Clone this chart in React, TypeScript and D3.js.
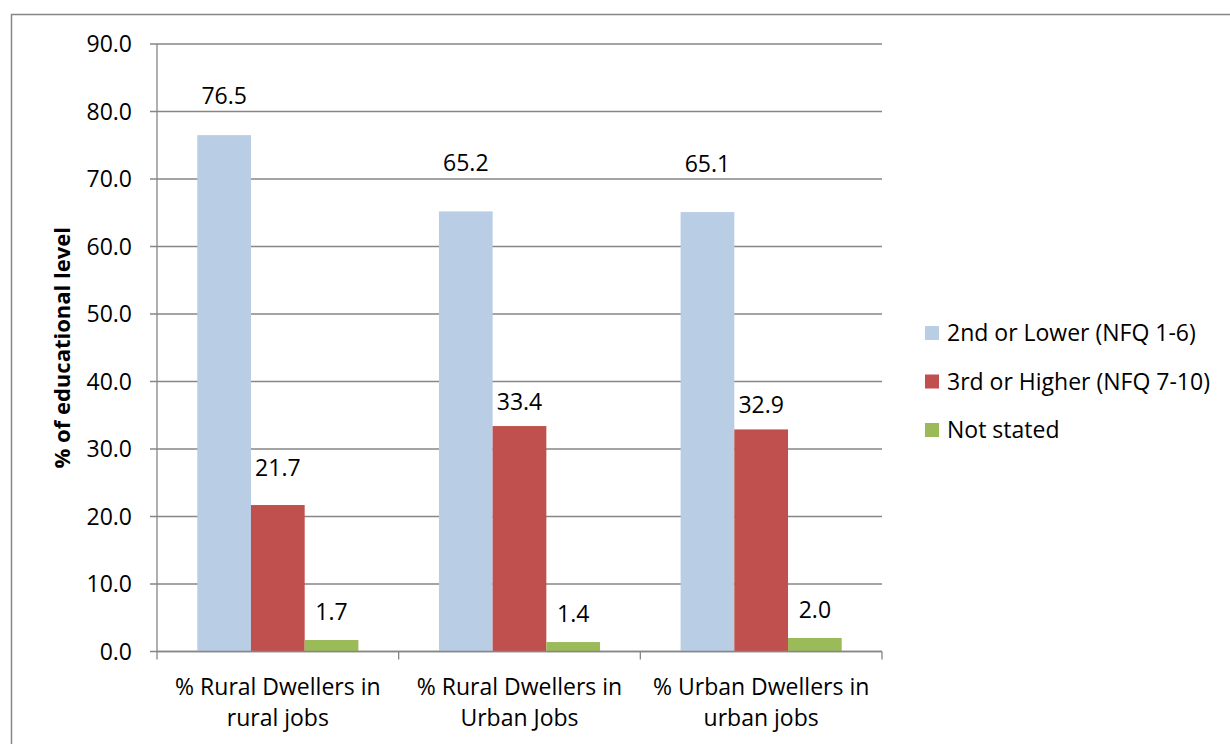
import React from "react";
import * as d3 from "d3";

const categories = [
  ["% Rural Dwellers in", "rural jobs"],
  ["% Rural Dwellers in", "Urban Jobs"],
  ["% Urban Dwellers in", "urban jobs"],
];
const seriesNames = ["2nd or Lower (NFQ 1-6)", "3rd or Higher (NFQ 7-10)", "Not stated"];
const lowerValues = [76.5, 65.2, 65.1];
const higherValues = [21.7, 33.4, 32.9];
const notStatedValues = [1.7, 1.4, 2.0];
const yTicks = [0, 10, 20, 30, 40, 50, 60, 70, 80, 90];

// label nudges (px above the bar top, to the text's middle)
const labelLift = [
  [39, 48, 48],
  [37, 24, 24],
  [28, 28, 28],
];

const colors = ["#B9CDE5", "#C0504D", "#9BBB59"];
const FONT = "'Open Sans', 'Noto Sans', sans-serif";
const FS = 23;

export default function App() {
  const W = 1230;
  const H = 744;
  const left = 157;
  const right = 882;
  const top = 44;
  const bottom = 651.5;

  const series = [lowerValues, higherValues, notStatedValues];

  const x = d3
    .scaleBand<number>()
    .domain(categories.map((_, i) => i))
    .range([left, right])
    .paddingInner(0)
    .paddingOuter(0);
  const inner = d3
    .scaleBand<number>()
    .domain(series.map((_, i) => i))
    .range([0, x.bandwidth()])
    .paddingOuter(0.75)
    .paddingInner(0);
  const y = d3.scaleLinear().domain([0, 90]).range([bottom, top]);
  const fmt = d3.format(".1f");

  return (
    <svg
      width={W}
      height={H}
      style={{ position: "absolute", left: 0, top: 0, display: "block" }}
      fontFamily={FONT}
    >
      <rect x={0} y={0} width={W} height={H} fill="#fff" />
      <rect x={11.5} y={14.5} width={W + 20} height={H + 20} fill="none" stroke="#868686" strokeWidth={1.5} />

      {/* gridlines and y ticks */}
      {yTicks.map((t) => (
        <g key={t}>
          <line x1={150} x2={right} y1={y(t)} y2={y(t)} stroke="#868686" strokeWidth={1.3} />
          <text x={132} y={y(t)} dy="0.35em" textAnchor="end" fontSize={FS} fill="#000">
            {fmt(t)}
          </text>
        </g>
      ))}

      {/* bars */}
      {series.map((vals, s) =>
        vals.map((v, c) => (
          <rect
            key={`${s}-${c}`}
            x={x(c)! + inner(s)!}
            width={inner.bandwidth()}
            y={y(v)}
            height={y(0) - y(v)}
            fill={colors[s]}
          />
        ))
      )}

      {/* axes */}
      <line x1={left} x2={left} y1={top} y2={bottom} stroke="#868686" strokeWidth={1.3} />
      <line x1={left} x2={right} y1={bottom} y2={bottom} stroke="#868686" strokeWidth={1.5} />
      {[0, 1, 2, 3].map((i) => {
        const px = i < 3 ? x(i)! : right;
        return <line key={i} x1={px} x2={px} y1={bottom} y2={bottom + 8} stroke="#868686" strokeWidth={1.3} />;
      })}

      {/* value labels */}
      {series.map((vals, s) =>
        vals.map((v, c) => (
          <text
            key={`l${s}-${c}`}
            x={x(c)! + inner(s)! + inner.bandwidth() / 2}
            y={y(v) - labelLift[s][c]}
            dy="0.35em"
            textAnchor="middle"
            fontSize={FS}
            fill="#000"
          >
            {fmt(v)}
          </text>
        ))
      )}

      {/* category labels */}
      {categories.map((lines, c) => (
        <text key={`c${c}`} x={x(c)! + x.bandwidth() / 2} textAnchor="middle" fontSize={FS} fill="#000">
          {lines.map((ln, k) => (
            <tspan key={k} x={x(c)! + x.bandwidth() / 2} y={687 + k * 31} dy="0.35em">
              {ln}
            </tspan>
          ))}
        </text>
      ))}

      {/* y axis title */}
      <text
        transform={`translate(62, ${(top + bottom) / 2}) rotate(-90)`}
        textAnchor="middle"
        dy="0.35em"
        fontSize={22}
        fontWeight="bold"
        fill="#000"
      >
        % of educational level
      </text>

      {/* legend */}
      {seriesNames.map((name, i) => (
        <g key={name} transform={`translate(925, ${333 + i * 48.5})`}>
          <rect x={0} y={-7} width={14} height={14} fill={colors[i]} />
          <text x={22} y={0} dy="0.35em" fontSize={FS} fill="#000">
            {name}
          </text>
        </g>
      ))}
    </svg>
  );
}
